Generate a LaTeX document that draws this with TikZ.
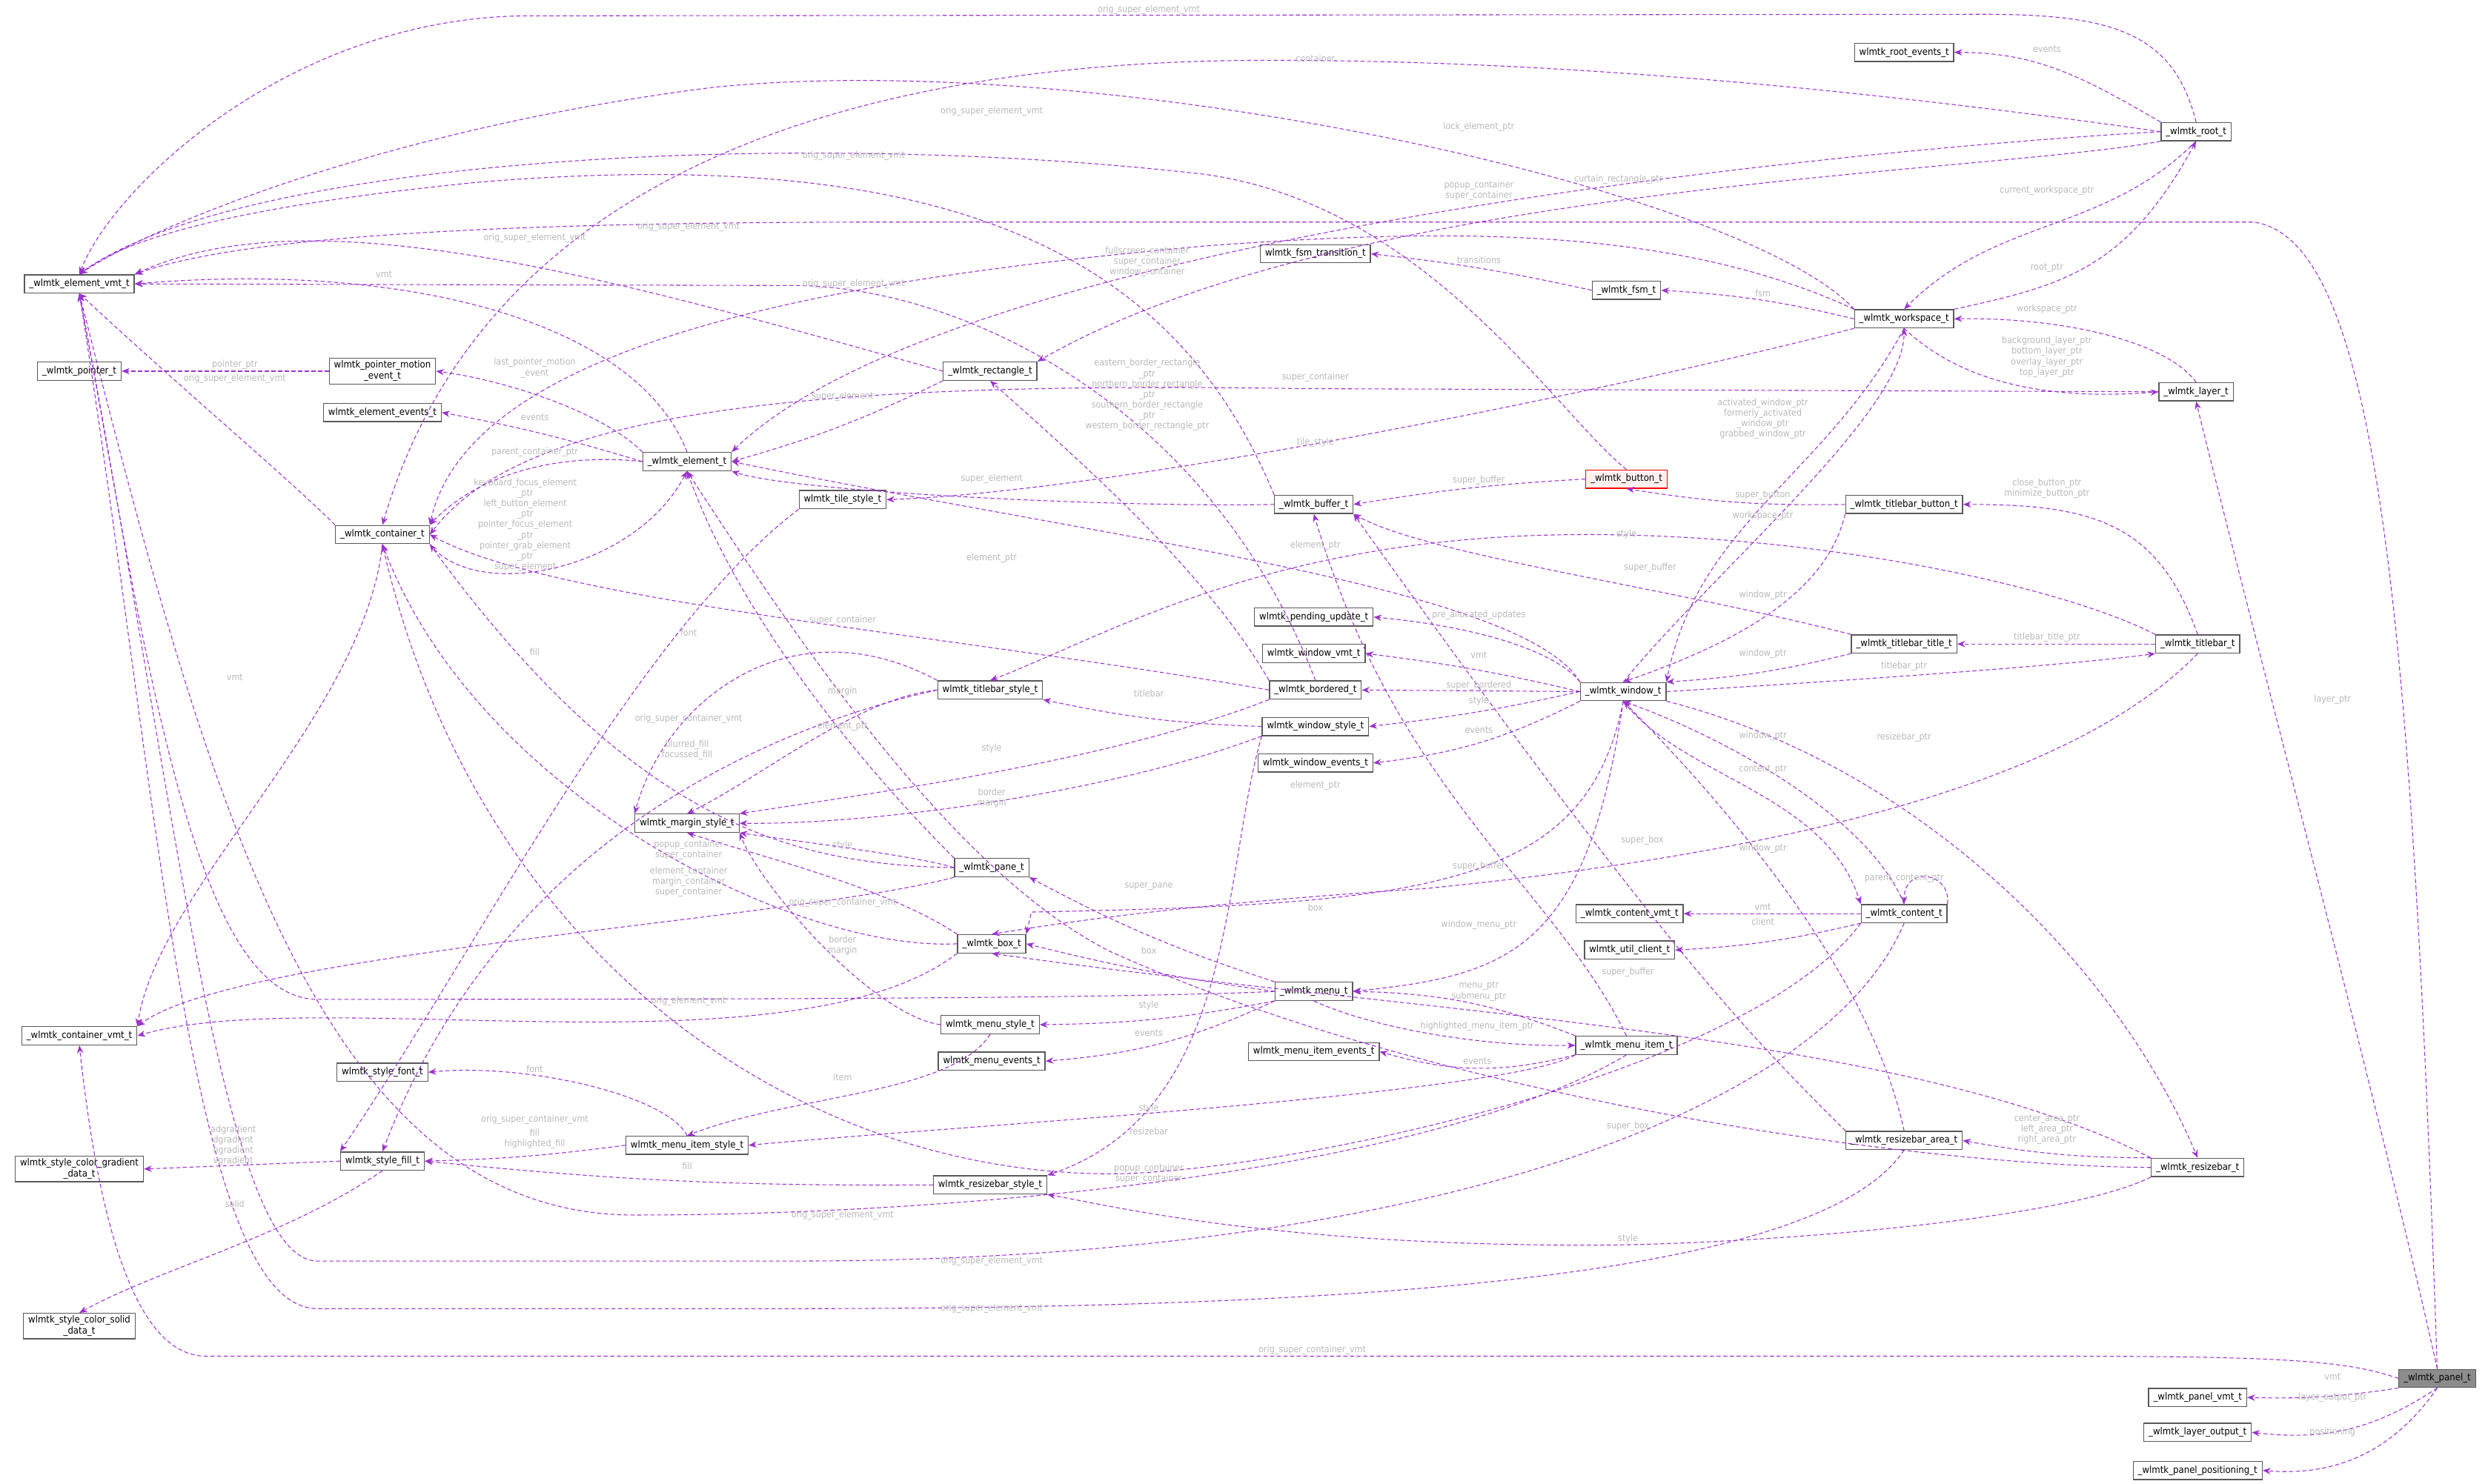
\documentclass[tikz,border=0pt]{standalone}
\usepackage{fontspec}
\setmainfont{DejaVu Sans Condensed}
\usetikzlibrary{arrows.meta}
\definecolor{edgec}{HTML}{9A32CD}
\definecolor{labc}{HTML}{B8B8B8}
\tikzset{
  cls/.style={draw=black!65,line width=0.6pt,fill=white,font=\fontsize{6.1}{7}\selectfont,inner xsep=3pt,inner ysep=1.5pt,minimum height=11.5pt,align=center},
  e/.style={draw=edgec,line width=0.5pt,dash pattern=on 2.6pt off 1.6pt,-{Stealth[length=5pt,width=4pt]}},
  lb/.style={text=labc,font=\fontsize{5.8}{6.6}\selectfont,align=center,inner sep=0pt}
}
\begin{document}
\begin{tikzpicture}[x=1pt,y=-1pt]
\useasboundingbox (0,0) rectangle (1568,935.5);
% nodes
\node[cls] (rootevents) at (1200,33) {wlmtk\_root\_events\_t};
\node[cls] (root) at (1384,83) {\_wlmtk\_root\_t};
\node[cls] (elemvmt) at (50,179) {\_wlmtk\_element\_vmt\_t};
\node[cls] (fsmtrans) at (829,160) {wlmtk\_fsm\_transition\_t};
\node[cls] (fsm) at (1025,183) {\_wlmtk\_fsm\_t};
\node[cls] (workspace) at (1200,201) {\_wlmtk\_workspace\_t};
\node[cls] (pointer) at (50,234) {\_wlmtk\_pointer\_t};
\node[cls] (ptrmotion) at (241,234) {wlmtk\_pointer\_motion\\\_event\_t};
\node[cls] (elevents) at (241,260) {wlmtk\_element\_events\_t};
\node[cls] (rectangle) at (624,234) {\_wlmtk\_rectangle\_t};
\node[cls] (layer) at (1384,247) {\_wlmtk\_layer\_t};
\node[cls] (element) at (433,291) {\_wlmtk\_element\_t};
\node[cls] (tilestyle) at (531,315) {wlmtk\_tile\_style\_t};
\node[cls,draw=red,fill=red!6] (button) at (1025,302) {\_wlmtk\_button\_t};
\node[cls] (buffer) at (828,318) {\_wlmtk\_buffer\_t};
\node[cls] (tbbutton) at (1200,318) {\_wlmtk\_titlebar\_button\_t};
\node[cls] (container) at (241,337) {\_wlmtk\_container\_t};
\node[cls] (pending) at (828,389) {wlmtk\_pending\_update\_t};
\node[cls] (windowvmt) at (828,412) {wlmtk\_window\_vmt\_t};
\node[cls] (tbtitle) at (1200,406) {\_wlmtk\_titlebar\_title\_t};
\node[cls] (titlebar) at (1385,406) {\_wlmtk\_titlebar\_t};
\node[cls] (tbstyle) at (624,435) {wlmtk\_titlebar\_style\_t};
\node[cls] (bordered) at (829,435) {\_wlmtk\_bordered\_t};
\node[cls] (window) at (1023,436) {\_wlmtk\_window\_t};
\node[cls] (windowstyle) at (829,458) {wlmtk\_window\_style\_t};
\node[cls] (windowevents) at (829,481) {wlmtk\_window\_events\_t};
\node[cls] (marginstyle) at (433,519) {wlmtk\_margin\_style\_t};
\node[cls] (pane) at (625,547) {\_wlmtk\_pane\_t};
\node[cls] (contentvmt) at (1027,576) {\_wlmtk\_content\_vmt\_t};
\node[cls] (content) at (1200,576) {\_wlmtk\_content\_t};
\node[cls] (box) at (625,595) {\_wlmtk\_box\_t};
\node[cls] (utilclient) at (1027,599) {wlmtk\_util\_client\_t};
\node[cls] (menu) at (828,625) {\_wlmtk\_menu\_t};
\node[cls] (menustyle) at (624,646) {wlmtk\_menu\_style\_t};
\node[cls] (contvmt) at (50,653) {\_wlmtk\_container\_vmt\_t};
\node[cls] (menuevents) at (625,669) {wlmtk\_menu\_events\_t};
\node[cls] (menuitemevents) at (828,663) {wlmtk\_menu\_item\_events\_t};
\node[cls] (menuitem) at (1025,659) {\_wlmtk\_menu\_item\_t};
\node[cls] (stylefont) at (241,676) {wlmtk\_style\_font\_t};
\node[cls] (menuitemstyle) at (433,722) {wlmtk\_menu\_item\_style\_t};
\node[cls] (resizebararea) at (1200,719) {\_wlmtk\_resizebar\_area\_t};
\node[cls] (gradient) at (50,737) {wlmtk\_style\_color\_gradient\\\_data\_t};
\node[cls] (stylefill) at (241,732) {wlmtk\_style\_fill\_t};
\node[cls] (resizebarstyle) at (624,747) {wlmtk\_resizebar\_style\_t};
\node[cls] (resizebar) at (1385,736) {\_wlmtk\_resizebar\_t};
\node[cls] (solid) at (50,836) {wlmtk\_style\_color\_solid\\\_data\_t};
\node[cls,fill=black!45] (panel) at (1536,869) {\_wlmtk\_panel\_t};
\node[cls] (panelvmt) at (1385,881) {\_wlmtk\_panel\_vmt\_t};
\node[cls] (layeroutput) at (1385,903) {\_wlmtk\_layer\_output\_t};
\node[cls] (panelpos) at (1385,927) {\_wlmtk\_panel\_positioning\_t};
% edges
\draw[e] (root.north) .. controls (1370,20) and (1330,9) .. (1250,9) -- (330,10) .. controls (180,12) and (70,120) .. (elemvmt.north);
\draw[e] (root.north west) to[out=150,in=0] (rootevents.east);
\draw[e] (root.west) .. controls (1200,60) and (1000,38) .. (800,38) .. controls (500,38) and (300,130) .. (container.north);
\draw[e] (root.west) .. controls (1150,95) and (600,150) .. (element.north east);
\draw[e] (root.south west) .. controls (1250,110) and (850,115) .. (rectangle.north east);
\draw[e] (root.south) to[out=225,in=45] (workspace.north);
\draw[e] (workspace.north east) .. controls (1300,180) and (1340,170) .. (root.south);
\draw[e] (workspace.north west) .. controls (1100,120) and (700,30) .. (450,55) .. controls (250,80) and (100,140) .. (elemvmt.north);
\draw[e] (workspace.north west) .. controls (1050,140) and (900,145) .. (760,155) .. controls (600,170) and (300,200) .. (container.north east);
\draw[e] (workspace.west) to[bend right=5] (fsm.east);
\draw[e] (fsm.west) to[bend right=3] (fsmtrans.east);
\draw[e] (workspace.south) .. controls (1240,245) and (1300,252) .. (layer.west);
\draw[e] (layer.north) .. controls (1365,215) and (1300,200) .. (workspace.east);
\draw[e] (workspace.south west) .. controls (1000,250) and (700,310) .. (tilestyle.east);
\draw[e] (layer.west) -- (820,245) .. controls (500,240) and (330,260) .. (container.east);
\draw[e] (window.north) .. controls (1080,360) and (1200,260) .. (workspace.south);
\draw[e] (workspace.south) .. controls (1150,300) and (1070,330) .. (window.north east);
\draw[e] (panel.north) .. controls (1520,400) and (1500,150) .. (1420,140) -- (560,140) .. controls (300,140) and (150,150) .. (elemvmt.north east);
\draw[e] (panel.north) .. controls (1500,700) and (1420,400) .. (layer.south);
\draw[e] (panel.west) .. controls (1480,858) and (1440,855) .. (1300,855) -- (130,855) .. controls (80,855) and (60,750) .. (contvmt.south);
\draw[e] (panel.south west) to[bend left=5] (panelvmt.east);
\draw[e] (panel.south) to[bend left=20] (layeroutput.east);
\draw[e] (panel.south) to[bend left=30] (panelpos.east);
\draw[e] (element.north) .. controls (400,200) and (250,165) .. (elemvmt.east);
\draw[e] (element.north west) .. controls (380,260) and (320,240) .. (ptrmotion.east);
\draw[e] (element.west) to[bend right=3] (elevents.east);
\draw[e] (element.west) .. controls (350,285) and (300,300) .. (container.north east);
\draw[e] (container.south east) .. controls (300,380) and (400,360) .. (element.south);
\draw[e] (ptrmotion.west) -- (pointer.east);
\draw[e] (container.north west) .. controls (180,300) and (120,250) .. (elemvmt.south);
\draw[e] (container.south) .. controls (230,450) and (100,560) .. (contvmt.north east);
\draw[e] (rectangle.south west) to[bend left=5] (element.east);
\draw[e] (rectangle.west) .. controls (400,180) and (200,120) .. (elemvmt.north east);
\draw[e] (bordered.north west) .. controls (760,360) and (680,290) .. (rectangle.south);
\draw[e] (bordered.west) .. controls (600,400) and (350,380) .. (container.east);
\draw[e] (bordered.north) .. controls (760,250) and (600,180) .. (500,180) -- (elemvmt.east);
\draw[e] (bordered.south west) .. controls (700,480) and (550,500) .. (marginstyle.north east);
\draw[e] (buffer.west) .. controls (700,320) and (500,310) .. (element.south east);
\draw[e] (buffer.north west) .. controls (740,160) and (600,90) .. (300,115) .. controls (150,130) and (80,150) .. (elemvmt.north);
\draw[e] (button.west) to[bend right=3] (buffer.east);
\draw[e] (button.north) .. controls (980,260) and (900,130) .. (760,110) .. controls (500,80) and (150,100) .. (elemvmt.north);
\draw[e] (tbbutton.west) to[bend left=5] (button.south);
\draw[e] (tbbutton.south west) .. controls (1150,380) and (1080,410) .. (window.north);
\draw[e] (tbtitle.north west) .. controls (1050,370) and (900,350) .. (buffer.south east);
\draw[e] (tbtitle.south west) to[bend left=5] (window.north east);
\draw[e] (titlebar.north) .. controls (1360,330) and (1320,318) .. (tbbutton.east);
\draw[e] (titlebar.west) -- (tbtitle.east);
\draw[e] (window.east) .. controls (1150,430) and (1300,420) .. (titlebar.south west);
\draw[e] (titlebar.north west) .. controls (1300,370) and (1150,337) .. (1000,337) .. controls (800,337) and (700,400) .. (tbstyle.north);
\draw[e] (titlebar.south) .. controls (1300,500) and (1100,540) .. (900,560) .. controls (750,570) and (680,580) .. (box.north);
\draw[e] (window.north west) .. controls (980,410) and (930,395) .. (pending.east);
\draw[e] (window.west) to[bend right=3] (windowvmt.east);
\draw[e] (window.west) -- (bordered.east);
\draw[e] (window.west) to[bend left=3] (windowstyle.east);
\draw[e] (window.south west) to[bend left=10] (windowevents.east);
\draw[e] (window.north west) .. controls (960,370) and (700,340) .. (element.east);
\draw[e] (window.south) .. controls (1060,490) and (1150,500) .. (content.north west);
\draw[e] (content.north) .. controls (1180,520) and (1100,470) .. (window.south);
\draw[e] (window.south east) .. controls (1200,480) and (1330,600) .. (resizebar.north);
\draw[e] (window.south) .. controls (1000,560) and (900,570) .. (650,575) -- (box.north east);
\draw[e] (window.south) .. controls (1000,600) and (950,615) .. (menu.east);
\draw[e] (windowstyle.west) to[bend left=5] (tbstyle.south east);
\draw[e] (windowstyle.south west) .. controls (700,500) and (550,520) .. (marginstyle.east);
\draw[e] (windowstyle.south west) .. controls (770,550) and (780,700) .. (resizebarstyle.north east);
\draw[e] (tbstyle.west) .. controls (540,440) and (480,490) .. (marginstyle.north);
\draw[e] (tbstyle.west) .. controls (500,455) and (320,520) .. (stylefill.north);
\draw[e] (tbstyle.north west) .. controls (500,380) and (420,440) .. (marginstyle.north west);
\draw[e] (tilestyle.south west) .. controls (400,400) and (300,600) .. (stylefill.north west);
\draw[e] (pane.north west) .. controls (560,500) and (470,400) .. (element.south);
\draw[e] (pane.west) .. controls (500,545) and (400,520) .. (container.south east);
\draw[e] (pane.west) .. controls (580,540) and (500,530) .. (marginstyle.south east);
\draw[e] (box.west) .. controls (500,600) and (300,500) .. (container.south);
\draw[e] (box.north west) .. controls (560,560) and (480,540) .. (marginstyle.south);
\draw[e] (box.south west) .. controls (500,680) and (200,620) .. (contvmt.east);
\draw[e] (pane.south west) .. controls (500,580) and (150,600) .. (contvmt.north east);
\draw[e] (menu.north west) to[bend left=5] (pane.south east);
\draw[e] (menu.west) to[bend left=3] (box.east);
\draw[e] (menu.south west) to[bend left=5] (menustyle.east);
\draw[e] (menu.south west) to[bend left=10] (menuevents.east);
\draw[e] (menu.west) .. controls (700,630) and (400,630) .. (200,630) .. controls (120,630) and (90,400) .. (elemvmt.south);
\draw[e] (menu.south) .. controls (870,650) and (940,660) .. (menuitem.west);
\draw[e] (menuitem.north west) to[bend right=10] (menu.east);
\draw[e] (menuitem.south west) to[bend left=15] (menuitemevents.east);
\draw[e] (menuitem.south west) .. controls (950,690) and (600,710) .. (menuitemstyle.east);
\draw[e] (menuitem.north) .. controls (980,560) and (880,500) .. (buffer.south);
\draw[e] (menuitem.south) .. controls (900,740) and (600,766) .. (400,766) .. controls (200,766) and (130,500) .. (elemvmt.south);
\draw[e] (menustyle.south) .. controls (600,690) and (500,690) .. (menuitemstyle.north);
\draw[e] (menustyle.west) .. controls (550,640) and (480,560) .. (marginstyle.south east);
\draw[e] (menuitemstyle.west) to[bend left=3] (stylefill.east);
\draw[e] (menuitemstyle.north) .. controls (420,690) and (330,670) .. (stylefont.east);
\draw[e] (stylefill.west) -- (gradient.east);
\draw[e] (stylefill.south) .. controls (180,780) and (100,800) .. (solid.north);
\draw[e] (content.west) -- (contentvmt.east);
\draw[e] (content.south west) to[bend left=5] (utilclient.east);
\draw[e] (content.north east) .. controls (1230,550) and (1200,545) .. (content.north);
\draw[e] (content.south) .. controls (1150,700) and (900,795) .. (500,795) -- (200,795) .. controls (140,795) and (110,500) .. (elemvmt.south);
\draw[e] (content.south west) .. controls (1100,680) and (800,740) .. (700,740) .. controls (500,740) and (300,600) .. (container.south);
\draw[e] (resizebararea.north west) .. controls (1100,650) and (1050,600) .. (buffer.south east);
\draw[e] (resizebararea.north) .. controls (1180,620) and (1100,520) .. (window.south);
\draw[e] (resizebararea.south) .. controls (1150,800) and (900,825) .. (500,825) -- (200,825) .. controls (120,825) and (100,500) .. (elemvmt.south);
\draw[e] (resizebar.north west) to[bend left=5] (resizebararea.east);
\draw[e] (resizebar.south west) .. controls (1300,770) and (1100,785) .. (1000,785) .. controls (800,785) and (700,760) .. (resizebarstyle.south east);
\draw[e] (resizebar.north west) .. controls (1200,650) and (900,640) .. (box.south);
\draw[e] (resizebarstyle.west) to[bend left=3] (stylefill.east);
\draw[e] (resizebar.west) .. controls (1200,735) and (900,690) .. (700,600) .. controls (600,550) and (500,400) .. (element.south);
% labels
\node[lb] at (724,6) {orig\_super\_element\_vmt};
\node[lb] at (1290,31) {events};
\node[lb] at (829,37) {container};
\node[lb] at (625,70) {orig\_super\_element\_vmt};
\node[lb] at (932,80) {lock\_element\_ptr};
\node[lb] at (538,98) {orig\_super\_element\_vmt};
\node[lb] at (1020,113) {curtain\_rectangle\_ptr};
\node[lb] at (932,120) {popup\_container\\super\_container};
\node[lb] at (1290,120) {current\_workspace\_ptr};
\node[lb] at (434,143) {orig\_super\_element\_vmt};
\node[lb] at (337,150) {orig\_super\_element\_vmt};
\node[lb] at (723,165) {fullscreen\_container\\super\_container\\window\_container};
\node[lb] at (932,164) {transitions};
\node[lb] at (1290,169) {root\_ptr};
\node[lb] at (242,173) {vmt};
\node[lb] at (538,179) {orig\_super\_element\_vmt};
\node[lb] at (1111,185) {fsm};
\node[lb] at (1290,195) {workspace\_ptr};
\node[lb] at (1290,225) {background\_layer\_ptr\\bottom\_layer\_ptr\\overlay\_layer\_ptr\\top\_layer\_ptr};
\node[lb] at (148,230) {pointer\_ptr};
\node[lb] at (148,239) {orig\_super\_element\_vmt};
\node[lb] at (337,232) {last\_pointer\_motion\\\_event};
\node[lb] at (829,238) {super\_container};
\node[lb] at (723,249) {eastern\_border\_rectangle\\\_ptr\\northern\_border\_rectangle\\\_ptr\\southern\_border\_rectangle\\\_ptr\\western\_border\_rectangle\_ptr};
\node[lb] at (531,250) {super\_element};
\node[lb] at (337,263) {events};
\node[lb] at (1111,264) {activated\_window\_ptr\\formerly\_activated\\\_window\_ptr\\grabbed\_window\_ptr};
\node[lb] at (829,279) {tile\_style};
\node[lb] at (337,285) {parent\_container\_ptr};
\node[lb] at (625,302) {super\_element};
\node[lb] at (932,303) {super\_buffer};
\node[lb] at (1111,312) {super\_button};
\node[lb] at (1290,308) {close\_button\_ptr\\minimize\_button\_ptr};
\node[lb] at (1111,325) {workspace\_ptr};
\node[lb] at (331,331) {keyboard\_focus\_element\\\_ptr\\left\_button\_element\\\_ptr\\pointer\_focus\_element\\\_ptr\\pointer\_grab\_element\\\_ptr\\super\_element};
\node[lb] at (1025,337) {style};
\node[lb] at (829,344) {element\_ptr};
\node[lb] at (625,352) {element\_ptr};
\node[lb] at (1040,358) {super\_buffer};
\node[lb] at (1111,375) {window\_ptr};
\node[lb] at (932,388) {pre\_allocated\_updates};
\node[lb] at (531,391) {super\_container};
\node[lb] at (434,399) {font};
\node[lb] at (1290,402) {titlebar\_title\_ptr};
\node[lb] at (337,411) {fill};
\node[lb] at (1111,412) {window\_ptr};
\node[lb] at (932,413) {vmt};
\node[lb] at (1200,420) {titlebar\_ptr};
\node[lb] at (148,427) {vmt};
\node[lb] at (932,432) {super\_bordered};
\node[lb] at (531,436) {margin};
\node[lb] at (724,437) {titlebar};
\node[lb] at (1470,441) {layer\_ptr};
\node[lb] at (932,442) {style};
\node[lb] at (434,453) {orig\_super\_container\_vmt};
\node[lb] at (531,458) {element\_ptr};
\node[lb] at (932,460) {events};
\node[lb] at (1111,464) {window\_ptr};
\node[lb] at (1200,465) {resizebar\_ptr};
\node[lb] at (625,472) {style};
\node[lb] at (433,473) {blurred\_fill\\focussed\_fill};
\node[lb] at (1111,485) {content\_ptr};
\node[lb] at (829,495) {element\_ptr};
\node[lb] at (625,503) {border\\margin};
\node[lb] at (1035,530) {super\_box};
\node[lb] at (531,533) {style};
\node[lb] at (1111,535) {window\_ptr};
\node[lb] at (434,536) {popup\_container\\super\_container};
\node[lb] at (932,546) {super\_buffer};
\node[lb] at (1200,554) {parent\_content\_ptr};
\node[lb] at (434,556) {element\_container\\margin\_container\\super\_container};
\node[lb] at (724,559) {super\_pane};
\node[lb] at (531,569) {orig\_super\_container\_vmt};
\node[lb] at (829,572) {box};
\node[lb] at (1111,572) {vmt};
\node[lb] at (1111,581) {client};
\node[lb] at (932,583) {window\_menu\_ptr};
\node[lb] at (531,596) {border\\margin};
\node[lb] at (724,599) {box};
\node[lb] at (1026,613) {super\_buffer};
\node[lb] at (932,625) {menu\_ptr\\submenu\_ptr};
\node[lb] at (434,631) {orig\_element\_vmt};
\node[lb] at (724,634) {style};
\node[lb] at (931,647) {highlighted\_menu\_item\_ptr};
\node[lb] at (724,651) {events};
\node[lb] at (931,669) {events};
\node[lb] at (337,674) {font};
\node[lb] at (531,679) {item};
\node[lb] at (724,699) {style};
\node[lb] at (337,706) {orig\_super\_container\_vmt};
\node[lb] at (1026,710) {super\_box};
\node[lb] at (1290,712) {center\_area\_ptr\\left\_area\_ptr\\right\_area\_ptr};
\node[lb] at (724,713) {resizebar};
\node[lb] at (337,718) {fill\\highlighted\_fill};
\node[lb] at (147,722) {adgradient\\dgradient\\hgradient\\vgradient};
\node[lb] at (433,735) {fill};
\node[lb] at (724,740) {popup\_container\\super\_container};
\node[lb] at (148,759) {solid};
\node[lb] at (531,766) {orig\_super\_element\_vmt};
\node[lb] at (1026,781) {style};
\node[lb] at (625,795) {orig\_super\_element\_vmt};
\node[lb] at (625,825) {orig\_super\_element\_vmt};
\node[lb] at (827,851) {orig\_super\_container\_vmt};
\node[lb] at (1470,868) {vmt};
\node[lb] at (1470,881) {layer\_output\_ptr};
\node[lb] at (1470,903) {positioning};
\end{tikzpicture}
\end{document}
